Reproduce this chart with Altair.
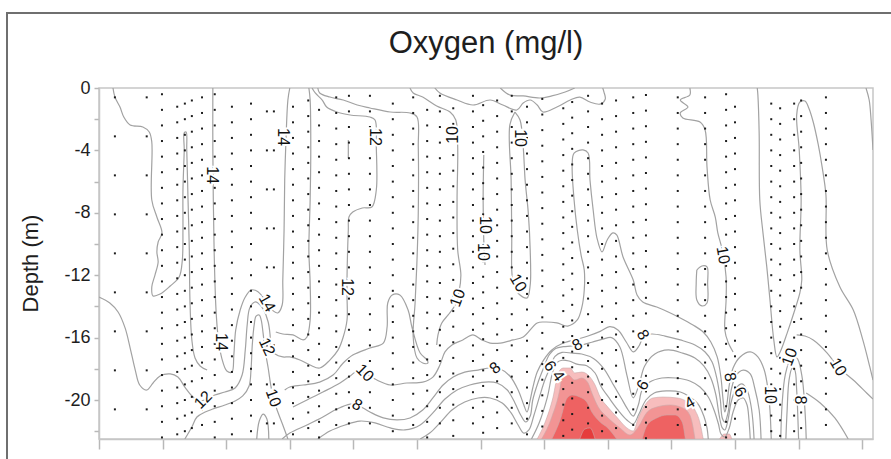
import altair as alt
import pandas as pd

FONT = "Liberation Sans"
X_MAX = 12.17
Y_MIN = -22.5

# ---------------- sampling stations (x position, first depth, depth step) ----------------
station_x = [0.25, 0.75, 0.99, 1.23, 1.35, 1.46, 1.62, 1.82, 2.09, 2.39,
             2.64, 2.75, 3.05, 3.29, 3.46, 3.73, 3.93, 4.26, 4.62, 4.94,
             5.16, 5.36, 5.57, 5.88, 6.04, 6.26, 6.49, 6.73, 6.97, 7.30,
             7.44, 7.69, 7.91, 8.13, 8.40, 8.60, 9.10, 9.53, 9.86, 10.0,
             10.57, 10.71, 10.93, 11.04, 11.43]
station_top = [-0.6, -0.6, -0.4, -1.2, -1.0, -0.8, -0.6, -0.4, -1.2, -1.0,
               -1.5, -1.5, -1.2, -0.8, -1.4, -0.6, -0.5, -0.5, -1.0, -0.6,
               -1.4, -0.5, -1.3, -0.5, -1.1, -0.8, -0.5, -1.2, -0.7, -1.3,
               -0.9, -0.5, -1.0, -0.8, -0.6, -0.45, -0.6, -0.6, -0.4, -1.2,
               -1.0, -1.3, -1.0, -0.8, -0.6]
station_step = [2.5, 2.5, 1, 1, 1, 1, 1, 1, 1, 1,
                2.5, 2.5, 1, 1, 1, 1, 1, 1, 1, 1,
                1, 1, 1, 1, 1, 1, 1, 1, 1, 1,
                1, 1, 1, 1, 1, 1, 1, 1, 1, 1,
                1, 1, 1, 1, 1]

# ---------------- digitised isolines (x, depth) ----------------
left_loop = [(0.22, 0), (0.25, -0.58), (0.33, -1.22), (0.39, -1.86), (0.49, -2.37), (0.69, -2.5),
             (0.79, -2.82), (0.83, -3.46), (0.83, -7.18), (0.91, -8.27), (0.99, -9.29), (0.93, -9.87),
             (0.91, -10.51), (0.93, -11.15), (0.88, -11.99), (0.83, -12.76), (0.85, -13.33), (0.96, -13.21),
             (1.12, -12.69), (1.26, -12.12), (1.31, -11.03), (1.32, -9.10), (1.32, -6.54), (1.34, -3.97),
             (1.34, -2.88), (1.37, -2.82), (1.38, -3.97), (1.40, -7.18), (1.42, -10.38), (1.43, -13.59),
             (1.46, -16.15), (1.51, -17.31), (1.59, -17.82), (1.70, -18.08)]
iso14 = [(1.79, 0), (1.79, -3.97), (1.81, -10.38), (1.84, -14.23), (1.87, -15.83), (1.93, -17.31),
         (2.01, -18.14), (2.09, -18.21), (2.12, -17.12), (2.15, -15.51), (2.22, -14.23), (2.30, -13.40),
         (2.39, -12.95), (2.48, -13.01), (2.58, -13.40), (2.66, -13.91), (2.74, -14.29), (2.81, -14.42),
         (2.88, -13.91), (2.89, -12.31), (2.91, -9.10), (2.92, -5.90), (2.94, -3.33), (2.97, -0.77), (3.00, 0)]
iso12 = [(0, -13.40), (0.17, -13.78), (0.30, -14.36), (0.41, -15.38), (0.49, -16.67), (0.57, -18.08),
         (0.64, -19.04), (0.75, -19.36), (0.85, -18.91), (0.96, -18.46), (1.12, -18.33), (1.24, -18.53),
         (1.35, -19.17), (1.48, -19.81), (1.59, -20.06), (1.70, -19.94), (1.82, -19.68), (1.98, -19.49),
         (2.14, -19.23), (2.25, -18.40), (2.30, -16.79), (2.33, -15.19), (2.37, -14.10), (2.45, -13.72),
         (2.50, -13.78), (2.59, -14.23), (2.66, -15.0), (2.69, -15.83), (2.70, -16.60), (2.77, -17.05),
         (2.89, -17.24), (3.00, -17.24), (3.16, -17.44), (3.32, -17.76), (3.47, -17.95), (3.63, -17.44),
         (3.76, -16.79), (3.84, -15.96), (3.90, -14.87), (3.90, -13.40), (3.90, -12.12), (3.92, -9.10),
         (3.93, -8.27), (3.99, -7.95), (4.14, -7.69), (4.29, -7.63), (4.36, -6.54), (4.36, -3.78),
         (4.34, -2.05), (4.26, -1.86), (3.95, -1.73), (3.74, -1.54), (3.58, -1.22), (3.51, -0.77),
         (3.40, -0.32), (3.35, 0)]
col_a = [(2.78, -15.64), (2.89, -15.77), (3.05, -15.83), (3.21, -16.15), (3.27, -15.96), (3.32, -14.87),
         (3.32, -12.50), (3.30, -10.38), (3.32, -7.18), (3.33, -3.97), (3.32, -0.77), (3.30, 0)]
iso10_hump = [(1.35, -22.5), (1.46, -21.73), (1.54, -21.09), (1.67, -20.77), (1.79, -20.58), (1.98, -20.32),
              (2.14, -20.06), (2.26, -19.74), (2.36, -19.10), (2.39, -18.08), (2.41, -16.47), (2.44, -15.19),
              (2.47, -14.62), (2.52, -14.55), (2.55, -14.87), (2.58, -15.71), (2.61, -16.79), (2.66, -17.95),
              (2.70, -19.04), (2.74, -19.87), (2.80, -20.64), (2.89, -21.60), (2.97, -22.5)]
arch = [(2.48, -22.5), (2.52, -21.35), (2.58, -20.90), (2.64, -21.22), (2.67, -22.5)]
bump = [(2.92, -19.36), (3.00, -19.17), (3.21, -19.04), (3.47, -18.85), (3.68, -18.40), (3.84, -17.63),
        (3.99, -17.12), (4.26, -16.67), (4.47, -16.35), (4.53, -15.32), (4.54, -13.78), (4.61, -13.27),
        (4.73, -13.27), (4.86, -14.23), (4.92, -15.32), (5.05, -16.99), (5.16, -17.44), (5.17, -17.63),
        (5.09, -17.63), (5.00, -17.31), (4.94, -15.96), (4.97, -13.78), (5.00, -11.03), (5.02, -8.01),
        (5.02, -3.78), (5.00, -1.86), (4.89, -1.60), (4.58, -1.54), (4.26, -1.28), (4.06, -1.09),
        (3.84, -0.77), (3.63, -0.58), (3.47, -0.32), (3.44, 0)]
iso10_low = [(3.05, -20.45), (3.27, -20.0), (3.52, -19.49), (3.79, -18.91), (3.95, -18.46), (4.06, -18.14),
             (4.18, -18.27), (4.37, -18.72), (4.58, -19.04), (4.84, -18.91), (5.09, -18.85), (5.25, -18.53),
             (5.36, -17.76), (5.44, -16.92), (5.55, -16.47), (5.72, -16.15), (5.88, -15.83), (6.02, -16.15),
             (6.15, -16.35), (6.31, -16.35), (6.51, -16.15), (6.67, -15.96), (6.89, -15.06), (7.01, -15.0),
             (7.20, -15.06), (7.37, -15.26), (7.52, -14.87), (7.59, -14.10), (7.63, -12.95), (7.63, -11.67),
             (7.58, -10.71), (7.52, -9.10), (7.47, -7.18), (7.44, -4.94), (7.47, -4.17), (7.61, -3.97),
             (7.69, -4.17), (7.72, -5.90), (7.77, -7.82), (7.83, -9.62), (7.91, -10.51), (7.99, -9.74),
             (8.08, -9.29), (8.14, -9.42), (8.24, -10.83), (8.40, -12.31), (8.46, -13.27), (8.55, -13.72),
             (8.77, -14.04), (8.95, -14.36), (9.14, -14.74), (9.34, -15.19), (9.50, -15.64), (9.62, -16.28),
             (9.72, -17.24), (9.78, -18.59), (9.81, -19.87), (9.84, -20.77), (9.87, -20.32), (9.91, -19.04),
             (9.97, -17.95), (10.08, -17.24), (10.24, -16.92), (10.36, -17.24), (10.46, -18.08),
             (10.52, -19.36), (10.55, -20.64), (10.57, -22.5)]
iso8 = [(2.88, -22.5), (3.00, -22.12), (3.27, -21.60), (3.52, -21.09), (3.74, -20.58), (3.95, -20.26),
        (4.06, -20.32), (4.26, -20.77), (4.47, -21.15), (4.69, -21.28), (4.89, -21.15), (5.09, -20.64),
        (5.25, -19.87), (5.41, -19.04), (5.57, -18.53), (5.75, -18.21), (5.96, -18.08), (6.15, -17.95),
        (6.31, -18.01), (6.46, -18.46), (6.59, -19.36), (6.68, -20.32), (6.73, -20.77), (6.78, -20.0),
        (6.82, -19.23), (6.89, -18.21), (6.99, -17.44), (7.12, -16.79), (7.30, -16.35), (7.52, -16.1),
        (7.69, -15.9), (7.88, -15.6), (8.03, -15.3), (8.16, -15.51), (8.29, -16.28), (8.40, -16.92),
        (8.49, -16.54), (8.57, -15.90), (8.69, -15.77), (8.90, -15.90), (9.14, -16.15), (9.37, -16.47),
        (9.53, -16.92), (9.64, -17.56), (9.72, -18.72), (9.77, -20.0), (9.80, -21.15), (9.84, -21.41),
        (9.89, -20.83), (9.94, -19.36), (10.02, -18.40), (10.13, -18.08), (10.24, -18.33), (10.31, -19.23),
        (10.38, -20.64), (10.41, -22.5)]
iso7 = [(3.44, -22.5), (3.63, -21.99), (3.87, -21.60), (4.10, -21.35), (4.34, -21.47), (4.58, -21.79),
        (4.81, -21.92), (5.05, -21.60), (5.25, -20.83), (5.44, -19.94), (5.63, -19.36), (5.83, -19.04),
        (6.07, -18.85), (6.26, -18.91), (6.42, -19.36), (6.54, -20.19), (6.63, -20.96), (6.71, -21.41),
        (6.78, -21.03), (6.82, -20.0), (6.90, -18.91), (6.99, -17.95), (7.08, -17.1), (7.18, -16.7),
        (7.30, -16.58), (7.41, -16.55), (7.56, -16.5), (7.75, -16.3), (7.92, -16.1), (8.06, -16.0),
        (8.19, -16.6), (8.30, -18.40), (8.40, -19.87), (8.49, -19.04), (8.58, -17.82), (8.74, -17.05),
        (8.95, -16.79), (9.17, -16.99), (9.37, -17.31), (9.51, -17.82), (9.62, -18.59), (9.70, -19.68),
        (9.75, -20.96), (9.80, -21.79), (9.84, -21.92), (9.89, -21.28), (9.94, -20.13), (10.02, -19.23),
        (10.11, -18.97), (10.19, -19.36), (10.25, -20.32), (10.28, -21.28), (10.30, -22.5)]
iso6 = [(5.05, -22.5), (5.20, -22.12), (5.36, -21.47), (5.55, -20.64), (5.75, -20.13), (5.96, -19.87),
        (6.15, -19.87), (6.34, -20.19), (6.48, -20.83), (6.59, -21.60), (6.68, -22.12), (6.76, -21.92),
        (6.84, -20.96), (6.93, -19.74), (7.01, -18.72), (7.09, -17.95), (7.17, -17.2), (7.28, -16.95),
        (7.44, -17.0), (7.59, -17.05), (7.78, -17.35), (7.94, -18.0), (8.08, -18.97), (8.21, -19.87),
        (8.32, -20.64), (8.40, -21.03), (8.48, -20.32), (8.54, -19.36), (8.66, -18.85), (8.85, -18.59),
        (9.07, -18.59), (9.29, -18.78), (9.45, -19.17), (9.58, -19.81), (9.67, -20.64), (9.74, -21.54),
        (9.78, -22.18), (9.84, -22.37), (9.91, -21.79), (9.97, -20.77), (10.05, -20.0), (10.13, -19.87),
        (10.19, -20.32), (10.22, -21.28), (10.24, -22.5)]
iso4 = [(6.80, -22.5), (6.92, -21.47), (7.05, -19.81), (7.13, -18.27), (7.20, -17.6), (7.28, -17.45),
        (7.39, -17.5), (7.53, -17.72), (7.67, -17.8), (7.80, -18.27), (7.89, -19.10), (8.02, -19.87),
        (8.16, -20.64), (8.30, -21.28), (8.40, -21.54), (8.49, -20.90), (8.60, -20.0), (8.73, -19.55),
        (8.92, -19.42), (9.14, -19.49), (9.29, -19.81), (9.42, -20.26), (9.51, -21.03), (9.56, -21.79),
        (9.58, -22.5)]
wiggle = [(9.29, 0), (9.29, -0.45), (9.14, -0.77), (9.26, -1.22), (9.14, -1.60), (9.18, -1.92),
          (9.45, -2.18), (9.53, -2.69), (9.56, -5.06), (9.61, -7.18), (9.69, -8.27), (9.73, -9.29),
          (9.80, -10.38), (9.86, -12.12), (9.86, -13.59), (9.84, -15.51), (9.89, -16.28), (9.97, -16.92)]
v_loop = [(10.35, 0), (10.36, -0.45), (10.38, -2.88), (10.39, -7.18), (10.44, -9.29), (10.50, -11.47),
          (10.55, -13.59), (10.61, -16.15), (10.66, -17.24), (10.71, -16.92), (10.82, -15.71),
          (10.94, -14.23), (11.02, -13.14), (11.05, -12.31), (11.02, -10.38), (11.04, -7.18),
          (11.01, -3.97), (10.97, -1.73), (11.02, -0.90), (11.10, -0.83), (11.16, -1.28), (11.23, -2.18),
          (11.31, -3.65), (11.37, -5.06), (11.43, -6.86), (11.45, -10.38), (11.65, -12.76),
          (11.86, -14.23), (12.01, -16.15), (12.12, -17.88), (12.17, -18.72)]
right_10 = [(10.97, -15.83), (11.10, -15.90), (11.23, -16.15), (11.45, -16.99), (11.62, -17.88),
            (11.86, -18.72), (12.07, -19.55), (12.17, -19.94)]
narrow_in = [(10.80, -22.5), (10.82, -20.64), (10.85, -18.72), (10.90, -17.95), (10.94, -18.08),
             (10.97, -19.36), (10.99, -21.28), (11.0, -22.5)]
narrow_out = [(10.72, -22.5), (10.74, -20.32), (10.79, -18.40), (10.87, -17.44), (10.97, -17.31),
              (11.05, -18.40), (11.10, -20.64), (11.12, -22.5)]
right_low = [(11.12, -19.55), (11.34, -20.19), (11.57, -21.15), (11.78, -22.5)]
edge_right = [(12.06, 0), (12.11, -0.77), (12.14, -2.05), (12.17, -3.97)]
small_loop = [(9.40, -11.67), (9.48, -11.41), (9.56, -11.47), (9.57, -12.50), (9.56, -13.78),
              (9.48, -13.97), (9.40, -13.59), (9.39, -12.50), (9.40, -11.67)]
surface_a = [(5.28, 0), (5.36, -0.32), (5.63, -0.77), (5.88, -1.09), (6.15, -0.77), (6.35, -1.09),
             (6.57, -1.41), (6.67, -0.96), (6.78, -0.77), (6.89, -1.09), (6.98, -1.54), (7.20, -1.22),
             (7.41, -0.77), (7.56, -0.58), (7.72, -0.90), (7.88, -1.03), (7.96, -0.71), (7.94, -0.26),
             (7.92, 0)]
surface_b = [(6.31, 0), (6.46, -0.45), (6.67, -0.51), (6.93, -0.64), (7.12, -0.51), (7.33, -0.26), (7.48, 0)]
loop10 = [(6.54, -1.54), (6.46, -2.37), (6.48, -5.90), (6.49, -9.74), (6.49, -11.67), (6.52, -12.63),
          (6.62, -13.27), (6.73, -13.46), (6.78, -12.63), (6.78, -10.38), (6.75, -8.01), (6.70, -5.90),
          (6.67, -3.78), (6.62, -2.05), (6.54, -1.54)]
col_b = [(4.89, 0), (4.94, -0.32), (5.09, -0.58), (5.31, -1.15), (5.52, -1.54), (5.61, -2.05),
         (5.64, -3.78), (5.63, -7.18), (5.64, -10.38), (5.69, -11.99), (5.66, -13.08), (5.60, -13.91),
         (5.49, -14.55), (5.39, -15.06), (5.33, -15.83), (5.31, -16.47)]
short_a = [(6.05, -4.29), (6.04, -7.18), (6.05, -9.74), (6.07, -11.35)]
short_b = [(3.92, -3.33), (3.92, -4.49)]

contour_lines = {
    "left_loop": left_loop, "iso14": iso14, "iso12": iso12, "col_a": col_a,
    "iso10_hump": iso10_hump, "arch": arch, "bump": bump, "iso10_low": iso10_low,
    "iso8": iso8, "iso7": iso7, "iso6": iso6, "iso4": iso4, "wiggle": wiggle,
    "v_loop": v_loop, "right_10": right_10, "narrow_in": narrow_in, "narrow_out": narrow_out,
    "right_low": right_low, "edge_right": edge_right, "small_loop": small_loop,
    "surface_a": surface_a, "surface_b": surface_b, "loop10": loop10, "col_b": col_b,
    "short_a": short_a, "short_b": short_b,
}

# ---------------- low-oxygen shaded bands (upper boundary, from the bottom) ----------------
band_lt4 = [(6.89, -22.5), (7.01, -21.47), (7.14, -19.81), (7.22, -18.27), (7.30, -17.95), (7.41, -17.95),
            (7.48, -18.27), (7.59, -18.21), (7.72, -18.53), (7.80, -19.04), (7.88, -19.81), (8.00, -20.45),
            (8.14, -21.09), (8.30, -21.79), (8.40, -21.99), (8.48, -21.15), (8.62, -20.13), (8.71, -19.87),
            (8.87, -19.81), (9.09, -19.87), (9.25, -20.13), (9.37, -20.64), (9.45, -21.47), (9.50, -22.5)]
band_lt4_small = [(9.76, -22.5), (9.83, -22.18), (9.91, -22.18), (9.95, -22.5)]
band_lt3 = [(6.96, -22.5), (7.12, -21.09), (7.25, -19.23), (7.28, -18.53), (7.38, -18.40), (7.48, -18.72),
            (7.59, -18.59), (7.69, -18.91), (7.75, -19.55), (7.85, -20.45), (7.99, -21.09), (8.19, -21.79),
            (8.35, -22.24), (8.48, -21.73), (8.62, -20.77), (8.77, -20.45), (8.98, -20.32), (9.18, -20.51),
            (9.29, -20.96), (9.34, -21.73), (9.37, -22.5)]
band_lt2_a = [(7.12, -22.5), (7.25, -21.28), (7.36, -19.87), (7.44, -19.68), (7.56, -19.81), (7.67, -20.13),
              (7.75, -20.77), (7.88, -21.41), (8.00, -21.79), (8.14, -22.5)]
band_lt2_b = [(8.54, -22.5), (8.62, -21.60), (8.77, -21.15), (8.93, -20.96), (9.06, -20.96), (9.17, -21.41),
              (9.22, -22.5)]
band_lt1 = [(7.56, -22.5), (7.64, -21.86), (7.72, -21.79), (7.80, -22.5)]

band_colors = ["#f7bdbd", "#f7bdbd", "#f29494", "#ee6262", "#ee6262", "#e63c3c"]
bands = [band_lt4, band_lt4_small, band_lt3, band_lt2_a, band_lt2_b, band_lt1]

# ---------------- isoline labels (x, depth, text, rotation) ----------------
label_x = [2.89, 1.78, 2.64, 1.92, 2.64, 2.74, 1.64, 4.34, 5.57, 6.62, 6.07, 6.04, 3.90, 5.64, 6.59,
           4.18, 4.06, 6.23, 7.09, 7.22, 7.52, 8.55, 8.55, 9.29, 9.81, 9.92, 10.08, 10.55, 10.86, 11.02, 11.62]
label_y = [-3.14, -5.58, -13.78, -16.28, -16.60, -19.87, -20.0, -3.14, -3.01, -3.21, -8.78, -10.51, -12.76,
           -13.46, -12.50, -18.27, -20.32, -17.95, -17.82, -18.46, -16.47, -15.83, -19.04, -20.19, -10.71,
           -18.53, -19.49, -19.68, -17.24, -20.0, -17.88]
label_text = ["14", "14", "14", "14", "12", "10", "12", "12", "10", "10", "10", "10", "12", "10", "10",
              "10", "8", "8", "6", "4", "8", "8", "6", "4", "10", "8", "6", "10", "10", "8", "10"]
label_angle = [90, 90, 60, 90, 65, 70, 315, 90, 270, 90, 90, 90, 90, 290, 60,
               45, 30, 320, 55, 55, 330, 60, 300, 330, 80, 80, 60, 90, 290, 90, 60]

y_ticks = [0, -2, -4, -6, -8, -10, -12, -14, -16, -18, -20, -22]
x_ticks = list(range(13))

# ---------------- tables ----------------
rows = []
for name, pts in contour_lines.items():
    for i, (x, y) in enumerate(pts):
        rows.append({"line": name, "i": i, "x": x, "y": y})
lines_df = pd.DataFrame(rows)

dot_rows = []
for sx, top, step in zip(station_x, station_top, station_step):
    d = top
    while d >= -22.45:
        dot_rows.append({"x": sx, "y": round(d, 2)})
        d -= step
dots_df = pd.DataFrame(dot_rows)

labels_df = pd.DataFrame({"x": label_x, "y": label_y, "t": label_text, "a": label_angle})
single = pd.DataFrame({"k": [0]})

# ---------------- scales / axes ----------------
x_scale = alt.Scale(domain=[0, X_MAX], nice=False, zero=False)
y_scale = alt.Scale(domain=[Y_MIN, 0], nice=False, zero=False)
x_axis = alt.Axis(values=x_ticks, labels=False, tickSize=10, tickColor="#b8b8b8", tickWidth=1.5,
                  domainColor="#c6c6c6", domainWidth=1.5, grid=False)
y_axis = alt.Axis(values=y_ticks,
                  labelExpr="datum.value % 4 == 0 ? (datum.value == 0 ? '0' : '-' + abs(datum.value)) : ''",
                  tickSize=5, tickColor="#b8b8b8", tickWidth=1.5, domainColor="#c6c6c6", domainWidth=1.5,
                  labelFont=FONT, labelFontSize=18, labelColor="#1e1e1e", labelPadding=4, grid=False)


def X():
    return alt.X("x:Q", scale=x_scale, axis=x_axis, title=None)


def Y():
    return alt.Y("y:Q", scale=y_scale, axis=y_axis, title=None)


layers = []

frame = alt.Chart(single).mark_rect(fillOpacity=0, stroke="#6f6f6f", strokeWidth=2).encode(
    x=alt.value(-92), x2=alt.value(830), y=alt.value(-75), y2=alt.value(400))
layers.append(frame)

for pts, col in zip(bands, band_colors):
    df = pd.DataFrame(pts, columns=["x", "y"])
    df["base"] = Y_MIN
    layers.append(
        alt.Chart(df).mark_area(color=col, interpolate="monotone", clip=True,
                                stroke="#c9a9a9", strokeWidth=0.6).encode(
            x=X(), y=Y(), y2=alt.Y2("base:Q")))

lines = alt.Chart(lines_df).mark_line(color="#a2a2a2", strokeWidth=1.2, interpolate="catmull-rom",
                                      clip=True).encode(
    x=X(), y=Y(), detail="line:N", order="i:Q")
layers.append(lines)

dots = alt.Chart(dots_df).mark_square(size=4, color="#1c1c1c", opacity=1).encode(x=X(), y=Y())
layers.append(dots)

lab_base = alt.Chart(labels_df).encode(x=X(), y=Y(), text="t:N", angle=alt.Angle("a:Q", scale=None))
layers.append(lab_base.mark_text(font=FONT, fontSize=16, stroke="white", strokeWidth=4, fill="white",
                                 align="center", baseline="middle"))
layers.append(lab_base.mark_text(font=FONT, fontSize=16, color="#111111", align="center", baseline="middle"))

title = alt.Chart(single).mark_text(text="Oxygen (mg/l)", font=FONT, fontSize=31, color="#1e1e1e",
                                    align="center", baseline="alphabetic").encode(
    x=alt.value(387), y=alt.value(-35))
layers.append(title)

ytitle = alt.Chart(single).mark_text(text="Depth (m)", font=FONT, fontSize=22, color="#1e1e1e",
                                     align="center", baseline="alphabetic", angle=270).encode(
    x=alt.value(-61), y=alt.value(175.5))
layers.append(ytitle)

chart = alt.layer(*layers).properties(
    width=774, height=351,
    padding={"left": 99, "top": 88, "right": 18, "bottom": 20},
    autosize=alt.AutoSizeParams(type="none"),
    background="white",
).configure_view(stroke="#c6c6c6", strokeWidth=1.5)

chart.save("out.html", embed_options={"renderer": "svg", "actions": False})
